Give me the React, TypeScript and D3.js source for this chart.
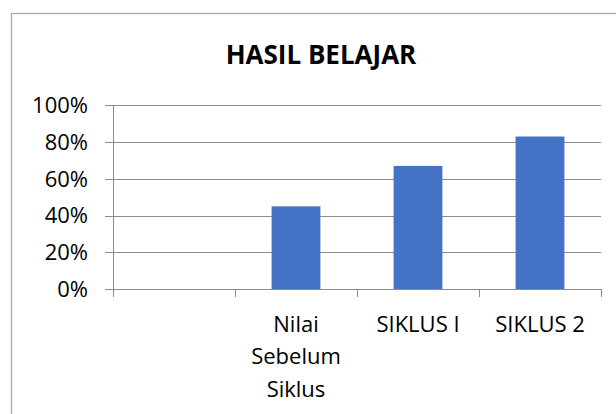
import React, { useEffect, useRef } from "react";
import * as d3 from "d3";

const TITLE = "HASIL BELAJAR";
const CATEGORIES = ["", "Nilai Sebelum Siklus", "SIKLUS I", "SIKLUS 2"];
const VALUES: (number | null)[] = [null, 0.45, 0.67, 0.83];
const Y_TICKS = [0, 0.2, 0.4, 0.6, 0.8, 1.0];

const W = 616;
const H = 414;
const FONT = "'Open Sans', 'Noto Sans', sans-serif";

export default function App() {
  const ref = useRef<SVGSVGElement | null>(null);

  useEffect(() => {
    const svg = d3.select(ref.current);
    svg.selectAll("*").remove();

    const left = 113;
    const right = 601;
    const top = 105.3;
    const bottom = 289;

    // chart border
    svg
      .append("rect")
      .attr("x", 11.5)
      .attr("y", 13.5)
      .attr("width", 700)
      .attr("height", 500)
      .attr("fill", "white")
      .attr("stroke", "#a9a9a9")
      .attr("stroke-width", 1.3);

    svg
      .append("text")
      .attr("x", 321)
      .attr("y", 63.5)
      .attr("text-anchor", "middle")
      .attr("font-family", FONT)
      .attr("font-weight", "bold")
      .attr("font-size", 26)
      .attr("fill", "#000")
      .text(TITLE);

    const x = d3
      .scaleBand<string>()
      .domain(CATEGORIES)
      .range([left, right])
      .paddingInner(0.6)
      .paddingOuter(0.3);
    const y = d3.scaleLinear().domain([0, 1]).range([bottom, top]);
    const step = x.step();

    const grid = "#8c8c8c";

    // gridlines and y ticks
    Y_TICKS.forEach((t) => {
      const yy = Math.round(y(t)) + 0.5;
      svg
        .append("line")
        .attr("x1", left - 8)
        .attr("x2", right)
        .attr("y1", yy)
        .attr("y2", yy)
        .attr("stroke", grid)
        .attr("stroke-width", 1);
      svg
        .append("text")
        .attr("x", 88)
        .attr("y", y(t))
        .attr("dy", "0.36em")
        .attr("text-anchor", "end")
        .attr("font-family", FONT)
        .attr("font-size", 22)
        .attr("fill", "#000")
        .text(d3.format(".0%")(t));
    });

    // y axis line
    svg
      .append("line")
      .attr("x1", left + 0.5)
      .attr("x2", left + 0.5)
      .attr("y1", top)
      .attr("y2", bottom + 8)
      .attr("stroke", grid);

    // category ticks
    CATEGORIES.forEach((c) => {
      const bx = (x(c) as number) - step * 0.3;
      const xx = Math.round(bx + step) + 0.5;
      svg
        .append("line")
        .attr("x1", xx)
        .attr("x2", xx)
        .attr("y1", bottom)
        .attr("y2", bottom + 8)
        .attr("stroke", grid);
    });

    // bars
    CATEGORIES.forEach((c, i) => {
      const v = VALUES[i];
      if (v == null) return;
      svg
        .append("rect")
        .attr("x", x(c) as number)
        .attr("y", y(v))
        .attr("width", x.bandwidth())
        .attr("height", bottom - y(v))
        .attr("fill", "#4472C4");
    });

    // category labels with wrapping
    const canvas = document.createElement("canvas");
    const ctx = canvas.getContext("2d")!;
    ctx.font = `22px ${FONT}`;
    CATEGORIES.forEach((c) => {
      if (!c) return;
      const words = c.split(" ");
      const lines: string[] = [];
      let cur = "";
      words.forEach((w) => {
        const test = cur ? cur + " " + w : w;
        if (cur && ctx.measureText(test).width > step - 4) {
          lines.push(cur);
          cur = w;
        } else cur = test;
      });
      if (cur) lines.push(cur);
      const cx = (x(c) as number) + x.bandwidth() / 2;
      lines.forEach((ln, k) => {
        svg
          .append("text")
          .attr("x", cx)
          .attr("y", 331.5 + k * 32.5)
          .attr("text-anchor", "middle")
          .attr("font-family", FONT)
          .attr("font-size", 22)
          .attr("fill", "#000")
          .text(ln);
      });
    });
  }, []);

  return (
    <svg
      ref={ref}
      width={W}
      height={H}
      style={{ position: "fixed", left: 0, top: 0, background: "white" }}
    />
  );
}
